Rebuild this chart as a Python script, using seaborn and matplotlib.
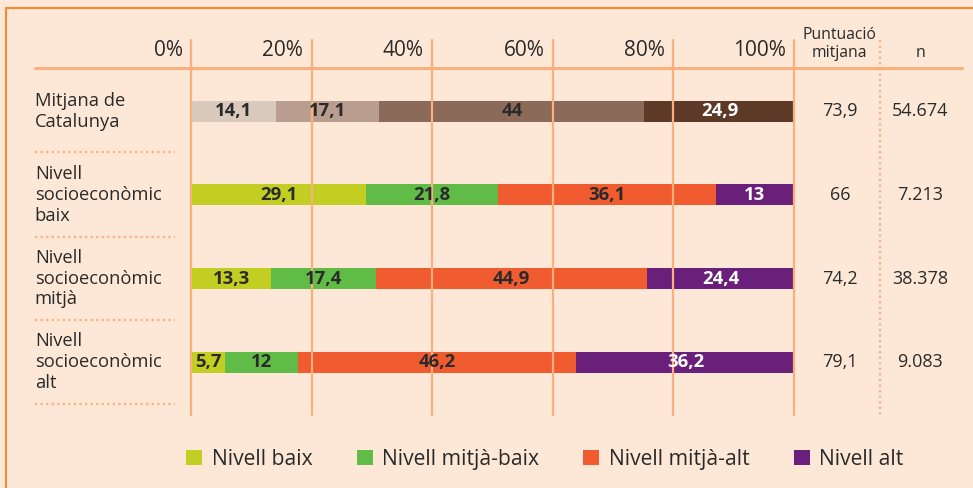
import pandas as pd
import matplotlib.pyplot as plt
import seaborn as sns
from matplotlib.lines import Line2D
from matplotlib.patches import Patch

rows = ["Mitjana de\nCatalunya", "Nivell\nsocioeconòmic\nbaix",
        "Nivell\nsocioeconòmic\nmitjà", "Nivell\nsocioeconòmic\nalt"]
levels = ["Nivell baix", "Nivell mitjà-baix", "Nivell mitjà-alt", "Nivell alt"]
baix = [14.1, 29.1, 13.3, 5.7]
mitja_baix = [17.1, 21.8, 17.4, 12]
mitja_alt = [44, 36.1, 44.9, 46.2]
alt = [24.9, 13, 24.4, 36.2]
puntuacio = ["73,9", "66", "74,2", "79,1"]
n_alumnes = ["54.674", "7.213", "38.378", "9.083"]
ticks = [0, 20, 40, 60, 80, 100]

level_colors = ["#c2cf22", "#61bb47", "#f15b30", "#6a1f7a"]
cat_colors = ["#dacabe", "#b99d8f", "#8c6a59", "#5d3a28"]
white_text = {(0, 3), (1, 3), (2, 3), (3, 3)}

bg = "#fde8d7"
grid_c = "#fbb07c"
text_c = "#2a2a2a"

sns.set_theme(style="white")
plt.rcParams["font.family"] = ["Open Sans", "DejaVu Sans"]

df = pd.DataFrame({"row": rows, "baix": baix, "mitja_baix": mitja_baix,
                   "mitja_alt": mitja_alt, "alt": alt})
cols = ["baix", "mitja_baix", "mitja_alt", "alt"]
cum = df[cols].cumsum(axis=1)

fig = plt.figure(figsize=(9.73, 4.88), dpi=100, facecolor=bg)
ax = fig.add_axes([191 / 973, 1 - 415 / 488, 603 / 973, 375 / 488])

# stacked bars: draw cumulative totals from the outermost layer inwards
for k in range(3, -1, -1):
    pal = {r: (cat_colors[k] if i == 0 else level_colors[k]) for i, r in enumerate(rows)}
    sns.barplot(x=cum[cols[k]], y=df["row"], hue=df["row"], palette=pal,
                orient="h", width=0.25, dodge=False, saturation=1,
                linewidth=0, legend=False, ax=ax, zorder=2)

ax.set_xlim(0, 100)
ax.set_ylim(3.63, -0.85)
ax.axis("off")

for t in ticks:
    ax.axvline(t, color=grid_c, lw=1.6, zorder=3, clip_on=False)
    ax.text(t - 1.4, -0.72, f"{t}%", ha="right", va="center", fontsize=15,
            color=text_c)

ax.plot([-25.9, 127.9], [-0.51, -0.51], color=grid_c, lw=2.2, clip_on=False, zorder=3)
ax.plot([114.3, 114.3], [-0.85, 3.63], color=grid_c, lw=1.6, ls=(0, (1, 1.5)),
        clip_on=False, zorder=3)
for yy in [0.49, 1.5, 2.5, 3.5]:
    ax.plot([-25.9, -2.6], [yy, yy], color=grid_c, lw=1.6, ls=(0, (1, 1.5)),
            clip_on=False)

ax.text(107.6, -0.8, "Puntuació\nmitjana", ha="center", va="center", fontsize=11.3,
        color=text_c, linespacing=1.2)
ax.text(120.9, -0.69, "n", ha="center", va="center", fontsize=11.5, color=text_c)

for i, r in enumerate(rows):
    ax.text(-25.9, i, r, ha="left", va="center", fontsize=13.2, color=text_c,
            linespacing=1.2)
    ax.text(107.6, i, puntuacio[i], ha="center", va="center", fontsize=13, color=text_c)
    ax.text(120.9, i, n_alumnes[i], ha="center", va="center", fontsize=13, color=text_c)
    left = 0
    for k, c in enumerate(cols):
        v = df.loc[i, c]
        lab = f"{v:g}".replace(".", ",")
        col = "white" if (i, k) in white_text else text_c
        ax.text(left + v / 2, i, lab, ha="center", va="center", fontsize=13.3,
                fontweight="bold", color=col, zorder=4)
        left += v

# frame lines
fig.add_artist(Line2D([6 / 973, 1], [1 - 8 / 488, 1 - 8 / 488], color="#f58b2b", lw=1.5))
fig.add_artist(Line2D([6 / 973, 6 / 973], [0, 1 - 8 / 488], color="#f58b2b", lw=1.5))

handles = [Patch(facecolor=c, edgecolor="none") for c in level_colors]
fig.legend(handles, levels, loc="center", bbox_to_anchor=(0.56, 0.059), ncol=4,
           frameon=False, fontsize=15.2, handlelength=0.75, handleheight=0.75,
           handletextpad=0.45, columnspacing=2.1, labelcolor=text_c)

fig.savefig("out.png", dpi=100, facecolor=bg)
